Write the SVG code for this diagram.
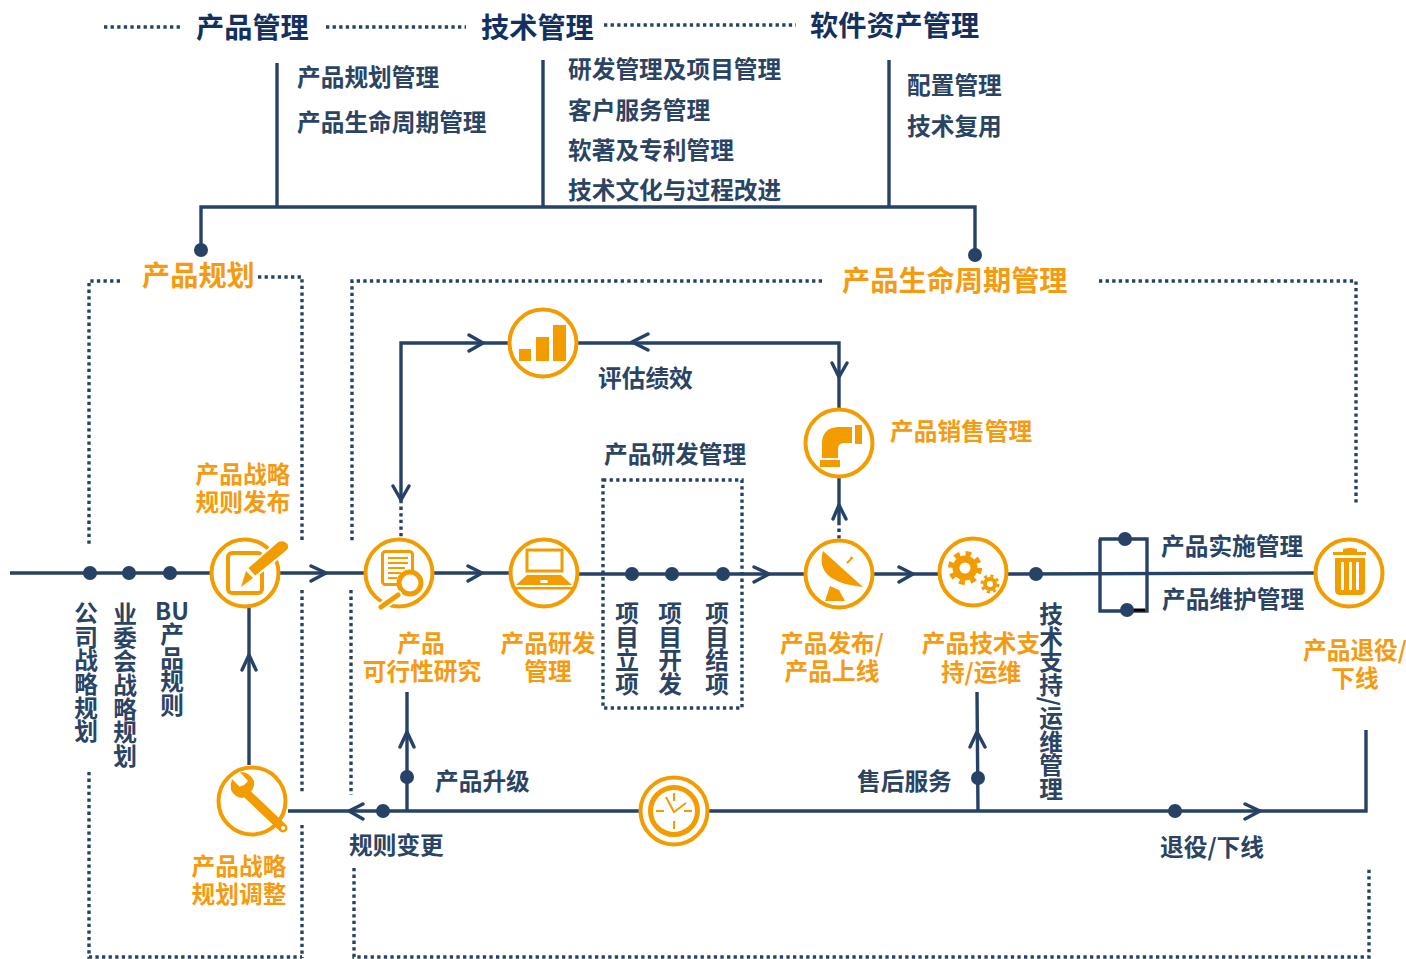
<svg xmlns="http://www.w3.org/2000/svg" width="1406" height="959" viewBox="0 0 1406 959">
<style>
text{font-family:"Noto Sans CJK SC","Noto Sans",sans-serif;font-weight:700;font-size:23.7px}
.h{font-size:28.200px;fill:#14305f}
.o{fill:#f59b12}
.ob{fill:#f59b12;font-size:28.200px}
.n{fill:#2b4463}
.m{text-anchor:middle}
.v{writing-mode:vertical-rl}
.l{fill:none;stroke:#264266;stroke-width:3.4}
.d{fill:none;stroke:#264266;stroke-width:3.400;stroke-dasharray:3.300 3.300}
.c{fill:none;stroke:#264266;stroke-width:3.4;stroke-linecap:round;stroke-linejoin:round}
.r{fill:#fff;stroke:#f39c00;stroke-width:4}
.f{fill:#f39c00}
.s{fill:none;stroke:#f39c00}
.w{fill:#fff}
</style>
<defs><circle id="dot" r="7" fill="#264266"/></defs>
<g id="connectors">
<path class="d" d="M104 27H181M326 27H466M604 25H796"/>
<path class="l" d="M277 63V207M543 60V207M889 60V207M201 250V207H975V255"/>
<path class="d" d="M120 281H89V545M258 277H302V543M302 590V793M302 825V958M89 772V957H302"/>
<path class="d" d="M822 281H352V543M351 590V795M354 868V957H1369V868M1099 281H1356V503"/>
<path class="l" d="M10 573H210M280 573H365M434 573H510M578 574H805M874 574H938M1008 574L1314 573"/>
<path class="l" d="M401 500V343H510M578 343H839V408M839 478V522M1099 539H1147V611H1100V539"/>
<path class="d" d="M401 500V538M839 522V540"/>
<path d="M1133 610H1145" fill="none" stroke="#000" stroke-width="3"/>
<path class="l" d="M288 811H640M708 811H1366V730M407 811V692M978 811L977 692M249 765V608"/>
<path class="c" d="M311 566L326 573L311 581M468 566L482 573L468 581M754 567L769 574L754 582M899 567L913 574L899 582M469 335L483 343L469 351M648 334L632 342L648 350M832 363L839 377L847 363M833 519L839 505L846 519M1245 804L1260 811L1245 819M363 804L349 811L363 819M400 747L407 732L414 747M970 747L977 732L985 747M242 670L249 655L256 670M393 486L401 500L409 486"/>
<use href="#dot" x="90" y="573"/><use href="#dot" x="129" y="573"/><use href="#dot" x="170" y="573"/>
<use href="#dot" x="632" y="574"/><use href="#dot" x="672" y="574"/><use href="#dot" x="723" y="574"/>
<use href="#dot" x="1036" y="574"/><use href="#dot" x="1125" y="539"/><use href="#dot" x="1127" y="610"/>
<use href="#dot" x="383" y="811"/><use href="#dot" x="407" y="777"/><use href="#dot" x="978" y="778"/><use href="#dot" x="1175" y="811"/>
<use href="#dot" x="201" y="250"/><use href="#dot" x="975" y="255"/>
<rect x="603" y="480" width="139" height="228" class="d"/>
</g>
<g id="headings">
<text class="h" x="196" y="38">产品管理</text>
<text class="h" x="481" y="38">技术管理</text>
<text class="h" x="810" y="36">软件资产管理</text>
<text class="n" x="297" y="86">产品规划管理</text>
<text class="n" x="297" y="131">产品生命周期管理</text>
<text class="n" x="568" y="78">研发管理及项目管理</text>
<text class="n" x="568" y="119">客户服务管理</text>
<text class="n" x="568" y="159">软著及专利管理</text>
<text class="n" x="568" y="199">技术文化与过程改进</text>
<text class="n" x="907" y="94">配置管理</text>
<text class="n" x="907" y="135">技术复用</text>
<text class="ob" x="142" y="286">产品规划</text>
<text class="ob" x="842" y="291">产品生命周期管理</text>
</g>
<g id="labels">
<text class="n" x="598" y="387">评估绩效</text>
<text class="n" x="604" y="463">产品研发管理</text>
<text class="n" x="1161" y="555">产品实施管理</text>
<text class="n" x="1162" y="608">产品维护管理</text>
<text class="n" x="435" y="790">产品升级</text>
<text class="n" x="857" y="790">售后服务</text>
<text class="n" x="349" y="854">规则变更</text>
<text class="n" x="1160" y="856">退役/下线</text>
<text class="n v" x="86" y="601">公司战略规划</text>
<text class="n v" x="125" y="602">业委会战略规划</text>
<text class="n m" x="172" y="620">BU</text>
<text class="n v" x="172" y="622">产品规则</text>
<text class="n v" x="627" y="601">项目立项</text>
<text class="n v" x="670" y="601">项目开发</text>
<text class="n v" x="717" y="601">项目结项</text>
<text class="n v" x="1051" y="602">技术支持/运维管理</text>
</g>
<g id="node-strategy-release">
<circle class="r" cx="245" cy="573" r="33.500"/>
<rect x="228" y="553" width="34" height="40" rx="4" fill="#fff" stroke="#f39c00" stroke-width="4"/>
<path class="f" stroke="#fff" stroke-width="2" d="M255 577L247 568L278 541Q283 539 288 543Q291 548 287 551Z"/>
<path class="f" d="M241 587L246 571L253 578Z"/>
<text class="o m"><tspan x="243" y="483">产品战略</tspan><tspan x="243" y="511">规则发布</tspan></text>
</g>
<g id="node-feasibility">
<circle class="r" cx="399" cy="573" r="33.500"/>
<rect x="382.500" y="551.500" width="30" height="33" rx="3" fill="#fff" stroke="#f39c00" stroke-width="3"/>
<path class="s" stroke-width="2" d="M388 558H408M388 563H408M388 568H405M388 573H401M388 578H397"/>
<circle cx="410" cy="583" r="11" fill="#fff" stroke="#f39c00" stroke-width="5"/>
<path d="M381 607L398 595" stroke="#fff" stroke-width="9" stroke-linecap="round"/>
<path d="M381 607L398 595" stroke="#f39c00" stroke-width="5" stroke-linecap="round"/>
<text class="o m"><tspan x="421" y="652">产品</tspan><tspan x="422" y="680">可行性研究</tspan></text>
</g>
<g id="node-rnd">
<circle class="r" cx="544" cy="573" r="33.500"/>
<rect x="527" y="550" width="35" height="21" class="s" stroke-width="3"/>
<path class="f" d="M527 575H561L572 585H516Z"/><rect class="f" x="516" y="587" width="56" height="2.500"/>
<rect class="w" x="540" y="580" width="8" height="3" rx="1.500"/>
<text class="o m"><tspan x="548" y="652">产品研发</tspan><tspan x="548" y="680">管理</tspan></text>
</g>
<g id="node-evaluate">
<circle class="r" cx="543" cy="343" r="33.500"/>
<rect class="f" x="519" y="349" width="12" height="12"/><rect class="f" x="536" y="337" width="13" height="24"/><rect class="f" x="553" y="325" width="13" height="36"/>
</g>
<g id="node-sales">
<circle class="r" cx="839" cy="443" r="33.500"/>
<rect class="f" x="855" y="425" width="7" height="19"/><rect class="f" x="820" y="460" width="20" height="7"/>
<path class="f" d="M822 458V442Q823 428 838 427H852V443H844Q838 443 838 449V458Z"/>
<text class="o" x="890" y="440">产品销售管理</text>
</g>
<g id="node-release">
<circle class="r" cx="839" cy="574" r="33.500"/>
<path class="f" d="M823 551Q814 582 863 587Z"/>
<path class="f" d="M830 586L839 590L845 601H825Z"/>
<path class="s" stroke-width="2" d="M847 563L851 559"/><circle class="f" cx="851.500" cy="558" r="1.500"/>
<text class="o m"><tspan x="832" y="652">产品发布/</tspan><tspan x="832" y="680">产品上线</tspan></text>
</g>
<g id="node-support">
<circle class="r" cx="973" cy="572" r="33.500"/>
<circle cx="965" cy="568" r="9" class="s" stroke-width="7"/>
<circle cx="965" cy="568" r="14.500" class="s" stroke-width="5" stroke-dasharray="5.700 5.700"/>
<circle cx="990" cy="584" r="5" class="s" stroke-width="4"/>
<circle cx="990" cy="584" r="8" class="s" stroke-width="3" stroke-dasharray="3.100 3.200"/>
<text class="o m"><tspan x="981" y="652">产品技术支</tspan><tspan x="981" y="681">持/运维</tspan></text>
</g>
<g id="node-retire">
<circle class="r" cx="1349" cy="573" r="33.500"/>
<path class="f" d="M1333 552H1343V549Q1350 547 1357 549V552H1366V555H1333Z"/>
<path class="f" d="M1335 558H1365V590Q1365 595 1360 595H1340Q1335 595 1335 590Z"/>
<path class="w" d="M1341 562h3v28h-3zM1349 562h3v28h-3zM1356 562h3v28h-3z"/>
<text class="o m"><tspan x="1355" y="659">产品退役/</tspan><tspan x="1355" y="687">下线</tspan></text>
</g>
<g id="node-strategy-adjust">
<circle class="r" cx="252" cy="801" r="33.500"/>
<path d="M243 790L283 828" stroke="#f39c00" stroke-width="9" stroke-linecap="round"/>
<path class="f" d="M232 779L241 788L248 781L240 772Q250 772 254 781Q255 787 250 793L243 798Q234 797 231 790Q230 784 232 779Z"/>
<circle class="w" cx="283" cy="828" r="2"/>
<text class="o m"><tspan x="239" y="875">产品战略</tspan><tspan x="239" y="903">规划调整</tspan></text>
</g>
<g id="node-clock">
<circle class="r" cx="674" cy="811" r="33.500"/>
<circle cx="674" cy="811" r="23.500" class="s" stroke-width="5"/>
<path class="s" stroke-width="2" d="M656 811H664M684 811H692M674 793V801M674 821V829"/>
<path class="s" stroke-width="2" d="M666 797L674 812L686 803"/>
</g>
</svg>
